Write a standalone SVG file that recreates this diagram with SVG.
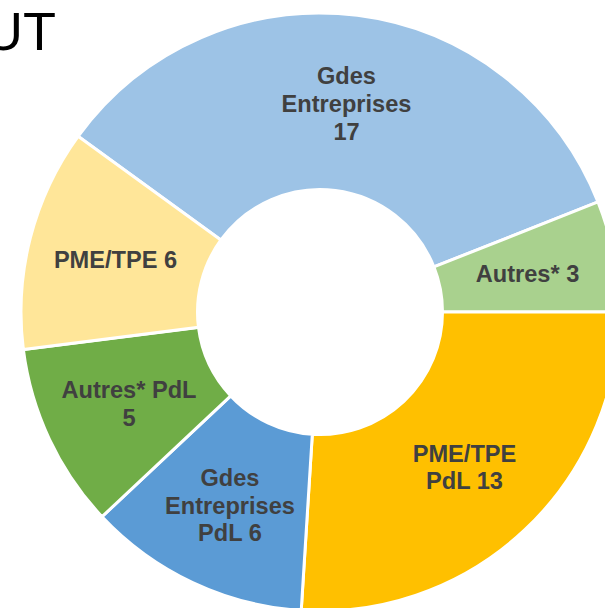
<svg xmlns="http://www.w3.org/2000/svg" width="605" height="608" viewBox="0 0 605 608">
<style>
.s{stroke:#fff;stroke-width:3;stroke-linejoin:miter}
.l{font-family:"Liberation Sans",Arial,sans-serif;font-weight:bold;font-size:23.6px;fill:#404040;text-anchor:middle}
.t{font-family:"Liberation Sans",Arial,sans-serif;font-size:54px;fill:#000}
</style>
<rect width="605" height="608" fill="#fff"/>
<text class="t" x="-16" y="50">UT</text>
<g id="gdes-entreprises">
<path class="s" fill="#9DC3E6" d="M78.10,136.25 A299,299 0 0 1 598.00,201.93 L433.90,266.91 A122.5,122.5 0 0 0 220.90,240.00 Z"/>
<text class="l" x="346.5" y="84.3">Gdes</text>
<text class="l" x="346.5" y="112.3">Entreprises</text>
<text class="l" x="346.5" y="140">17</text>
</g>
<g id="autres">
<path class="s" fill="#A9D18E" d="M598.00,201.93 A299,299 0 0 1 619,312 L442.5,312 A122.5,122.5 0 0 0 433.90,266.91 Z"/>
<text class="l" x="527.5" y="282">Autres* 3</text>
</g>
<g id="pme-tpe-pdl">
<path class="s" fill="#FFC000" d="M619,312 A299,299 0 0 1 301.23,610.41 L312.31,434.26 A122.5,122.5 0 0 0 442.5,312 Z"/>
<text class="l" x="464.5" y="461.7">PME/TPE</text>
<text class="l" x="464.5" y="489.3">PdL 13</text>
</g>
<g id="gdes-entreprises-pdl">
<path class="s" fill="#5B9BD5" d="M301.23,610.41 A299,299 0 0 1 102.04,516.68 L230.70,395.86 A122.5,122.5 0 0 0 312.31,434.26 Z"/>
<text class="l" x="230" y="486">Gdes</text>
<text class="l" x="230" y="513.5">Entreprises</text>
<text class="l" x="230" y="541">PdL 6</text>
</g>
<g id="autres-pdl">
<path class="s" fill="#70AD47" d="M102.04,516.68 A299,299 0 0 1 23.36,349.47 L198.47,327.35 A122.5,122.5 0 0 0 230.70,395.86 Z"/>
<text class="l" x="129" y="397.7">Autres* PdL</text>
<text class="l" x="129" y="425.5">5</text>
</g>
<g id="pme-tpe">
<path class="s" fill="#FFE699" d="M23.36,349.47 A299,299 0 0 1 78.10,136.25 L220.90,240.00 A122.5,122.5 0 0 0 198.47,327.35 Z"/>
<text class="l" x="115.5" y="268.3">PME/TPE 6</text>
</g>
<g id="connectors"></g>
</svg>
